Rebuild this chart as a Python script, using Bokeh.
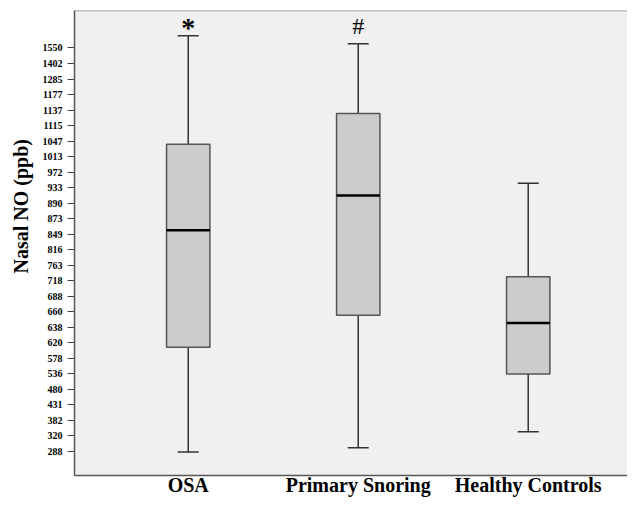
import numpy as np
from bokeh.plotting import figure
from bokeh.models import Range1d, FixedTicker, Span, Title
from bokeh.core.properties import value
from bokeh.embed import file_html
from bokeh.resources import INLINE

# ---- data ----
groups = ["OSA", "Primary Snoring", "Healthy Controls"]
group_pos = [1, 2, 3]
tick_labels = [288, 320, 382, 431, 480, 536, 578, 620, 638, 660, 688, 718, 763,
               816, 849, 873, 890, 933, 972, 1013, 1047, 1115, 1137, 1177, 1285,
               1402, 1550]
whisker_low = [287, 296, 337]
q1 = [608, 655, 536]
median = [855, 911, 644]
q3 = [1040, 1132, 730]
whisker_high = [1667, 1590, 944]
markers = ["*", "#", ""]

# The axis in the original is an ordinal (equal-step) scale of the labelled values.
tv = np.array(tick_labels, dtype=float)
ti = np.arange(len(tv), dtype=float)


def pos(v):
    v = np.asarray(v, dtype=float)
    out = np.interp(v, tv, ti)
    lo = v < tv[0]
    hi = v > tv[-1]
    out[lo] = (v[lo] - tv[0]) / (tv[1] - tv[0])
    out[hi] = ti[-1] + (v[hi] - tv[-1]) / (tv[-1] - tv[-2])
    return out


xs = np.array(group_pos, dtype=float)
box_w = 0.255
cap_w = 0.124
X0, X1 = 0.331, 3.584
Y0, Y1 = -1.546, 28.415

p = figure(width=627, height=499, output_backend="svg", toolbar_location=None,
           x_range=Range1d(X0, X1), y_range=Range1d(Y0, Y1),
           min_border_left=74, min_border_right=0, min_border_top=10,
           min_border_bottom=24)
p.background_fill_color = "#f0f0f0"
p.border_fill_color = "white"
p.outline_line_color = None
p.xgrid.visible = False
p.ygrid.visible = False

# top border line
p.add_layout(Span(location=Y1, dimension="width", line_color="#888888",
                  line_width=1.5))

# whiskers
p.segment(x0=xs, x1=xs, y0=pos(q3), y1=pos(whisker_high), line_color="#333333",
          line_width=1.5)
p.segment(x0=xs, x1=xs, y0=pos(q1), y1=pos(whisker_low), line_color="#333333",
          line_width=1.5)
# caps
p.segment(x0=xs - cap_w / 2, x1=xs + cap_w / 2, y0=pos(whisker_high),
          y1=pos(whisker_high), line_color="#333333", line_width=1.5)
p.segment(x0=xs - cap_w / 2, x1=xs + cap_w / 2, y0=pos(whisker_low),
          y1=pos(whisker_low), line_color="#333333", line_width=1.5)
# boxes
p.vbar(x=xs, width=box_w, bottom=pos(q1), top=pos(q3), fill_color="#cccccc",
       line_color="#555555", line_width=1.5)
# medians
p.segment(x0=xs - box_w / 2, x1=xs + box_w / 2, y0=pos(median), y1=pos(median),
          line_color="black", line_width=2.5)

# significance markers
p.text(x=xs[:1], y=pos(whisker_high[:1]), text=markers[:1], y_offset=-8,
       text_align="center", text_baseline="alphabetic",
       text_font=value("Liberation Serif"), text_font_size="28px",
       text_font_style="bold", text_color="black")
p.text(x=xs[1:2], y=pos(whisker_high[1:2]), text=markers[1:2], y_offset=-18,
       text_align="center", text_baseline="alphabetic",
       text_font=value("Liberation Serif"), text_font_size="24px",
       text_color="black")

# y axis
ya = p.yaxis[0]
ya.ticker = FixedTicker(ticks=[int(i) for i in ti])
ya.major_label_overrides = {int(i): str(v) for i, v in zip(ti, tick_labels)}
ya.major_label_text_font = "Liberation Serif"
ya.major_label_text_font_size = "10px"
ya.major_label_text_font_style = "bold"
ya.major_label_text_color = "black"
ya.major_label_standoff = 5
ya.major_tick_out = 7
ya.major_tick_in = 0
ya.major_tick_line_color = "#444444"
ya.minor_tick_line_color = None
ya.axis_line_color = "#555555"
ya.axis_line_width = 1.5

# x axis
xa = p.xaxis[0]
xa.ticker = FixedTicker(ticks=group_pos)
xa.major_label_overrides = {g: n for g, n in zip(group_pos, groups)}
xa.major_label_text_font = "Liberation Serif"
xa.major_label_text_font_size = "20px"
xa.major_label_text_font_style = "bold"
xa.major_label_text_color = "black"
xa.major_label_standoff = -2
xa.major_tick_out = 0
xa.major_tick_in = 0
xa.major_tick_line_color = None
xa.minor_tick_line_color = None
xa.axis_line_color = "#555555"
xa.axis_line_width = 1.5

# y axis title (placed off-centre as in the original)
p.add_layout(Title(text="Nasal NO (ppb)", align="left", offset=202, standoff=14,
                   vertical_align="middle",
                   text_font="Liberation Serif", text_font_size="20px",
                   text_font_style="bold", text_color="black"), "left")

open("out.html", "w").write(file_html(p, INLINE))
